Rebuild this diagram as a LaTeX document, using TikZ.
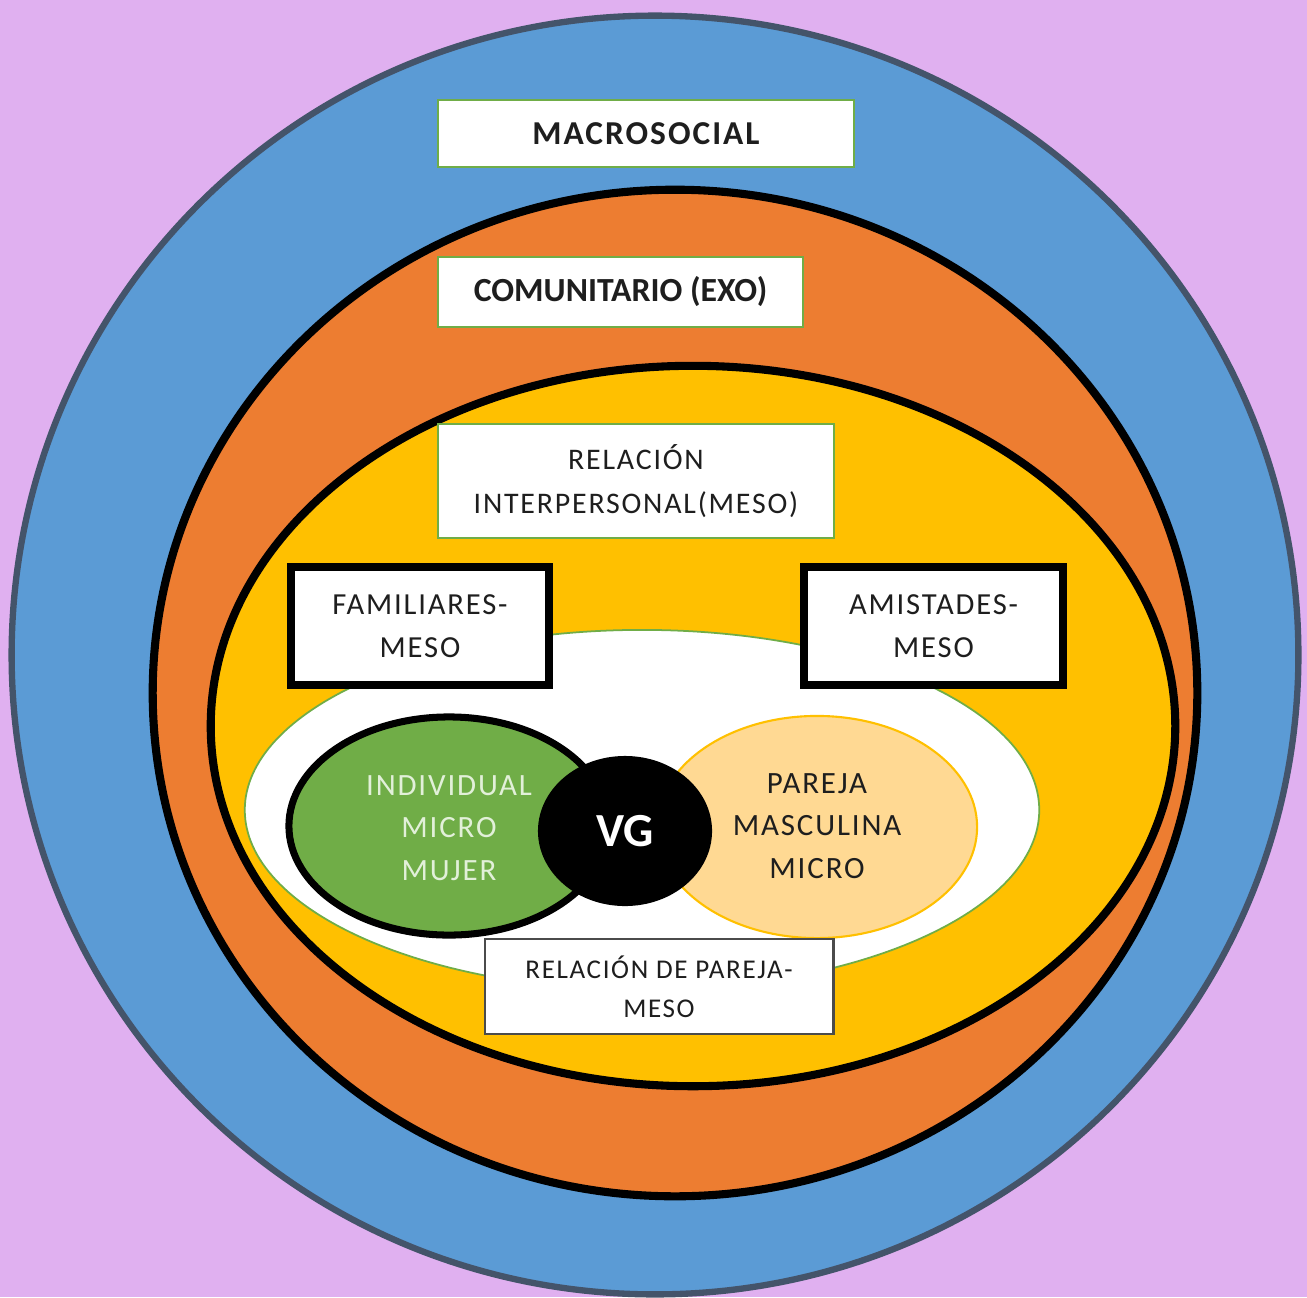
\documentclass[tikz,border=0pt]{standalone}
\usepackage{fontspec}
\setmainfont{Carlito}
\newfontfamily\spaced{Carlito}[LetterSpace=6]
\usepackage{xcolor}
\usepackage{tikz}
\usetikzlibrary{shapes.geometric,positioning}

\definecolor{lilac}{HTML}{E0B0F0}
\definecolor{macroblue}{HTML}{5B9BD5}
\definecolor{slate}{HTML}{44546A}
\definecolor{exoorange}{HTML}{ED7D31}
\definecolor{mesogold}{HTML}{FFC000}
\definecolor{leafgreen}{HTML}{70AD47}
\definecolor{paleleaf}{HTML}{E2F0D9}
\definecolor{paleorange}{HTML}{FFD993}
\definecolor{inkgray}{HTML}{1E1E1E}

\begin{document}
\begin{tikzpicture}[
    x=0.01cm, y=-0.01cm,
    ring/.style={ellipse, inner sep=0pt, draw=black, line width=2.3pt},
    label/.style={draw=leafgreen, line width=0.6pt, fill=white, inner sep=0pt, align=center, text=inkgray, font=\spaced\fontsize{8.5}{12.4}\selectfont},
    thickbox/.style={draw=black, line width=2.3pt, fill=white, inner sep=0pt, align=center, text=inkgray, minimum width=2.58cm, minimum height=1.18cm, font=\spaced\fontsize{8.7}{12.2}\selectfont},
    micro/.style={ellipse, inner sep=0pt, align=center, font=\spaced\fontsize{8.8}{12.1}\selectfont},
]

% fondo
\fill[lilac] (0,0) rectangle (1307,1297);
\useasboundingbox (0,0) rectangle (1307,1297);

% niveles
\node[ring, draw=slate, line width=1.8pt, fill=macroblue, minimum width=12.86cm, minimum height=12.78cm] (macro) at (655,655) {};
\node[ring, fill=exoorange, minimum width=10.44cm, minimum height=10.06cm] (exo) at (675,693) {};
\node[ring, fill=mesogold, minimum width=9.64cm, minimum height=7.2cm] (meso) at (693,726) {};
\node[ellipse, inner sep=0pt, draw=leafgreen, line width=0.5pt, fill=white, minimum width=7.94cm, minimum height=3.6cm] (parejazone) at (642,810) {};

% micro
\node[micro, draw=black, line width=2pt, fill=leafgreen, text=paleleaf, minimum width=3.2cm, minimum height=2.18cm] (mujer) at (449,826) {};
\node[micro, draw=mesogold, line width=0.6pt, fill=paleorange, text=inkgray, minimum width=3.2cm, minimum height=2.22cm] (hombre) at (817,827) {};
\node[ellipse, inner sep=0pt, fill=black, text=white, minimum width=1.74cm, minimum height=1.5cm, font=\fontsize{13.5}{14}\selectfont\bfseries] (vg) at (625,831) {VG};
\node[micro, text=paleleaf] (mujertxt) at (449,828) {INDIVIDUAL\\MICRO\\MUJER};
\node[micro, text=inkgray] (hombretxt) at (817,826) {PAREJA\\MASCULINA\\MICRO};

% etiquetas
\node[label, minimum width=4.16cm, minimum height=0.67cm, font=\spaced\fontsize{9.5}{12}\selectfont\bfseries] (macrotag) at (646,133.5) {MACROSOCIAL};
\node[label, minimum width=3.65cm, minimum height=0.70cm, font=\fontsize{9.6}{12}\selectfont\bfseries] (exotag) at (620.5,292) {COMUNITARIO (EXO)};
\node[label, minimum width=3.96cm, minimum height=1.14cm] (mesotag) at (636,481) {RELACIÓN\\INTERPERSONAL(MESO)};
\node[thickbox] (familia) at (420,626) {FAMILIARES-\\MESO};
\node[thickbox] (amigos) at (933.5,626) {AMISTADES-\\MESO};
\node[label, draw=inkgray!80, line width=0.8pt, minimum width=3.48cm, minimum height=0.95cm, font=\spaced\fontsize{7.7}{11}\selectfont] (relpareja) at (659,986.5) {RELACIÓN DE PAREJA-\\MESO};

\end{tikzpicture}
\end{document}
